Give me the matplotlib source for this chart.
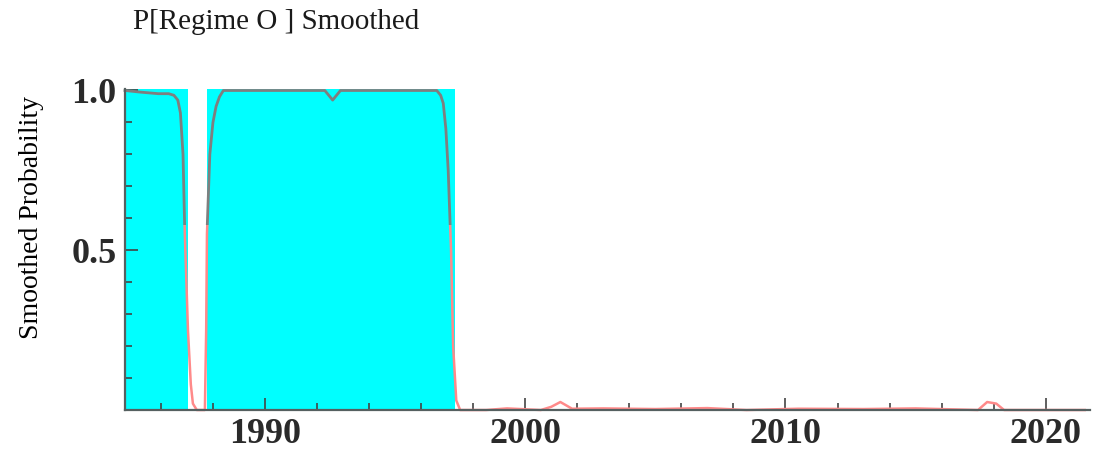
import matplotlib.pyplot as plt
from matplotlib.patches import Rectangle
from matplotlib.ticker import MultipleLocator, FixedLocator

# smoothed probability of regime 0
years = [1984.62, 1985.2, 1985.9, 1986.3, 1986.5, 1986.65, 1986.75, 1986.85, 1986.92, 1987.04,
         1987.15, 1987.23, 1987.38, 1987.69, 1987.74, 1987.77, 1987.88, 1988.0, 1988.12, 1988.25,
         1988.4, 1990.0, 1992.3, 1992.6, 1992.9, 1995.0, 1996.6, 1996.75, 1996.85, 1996.95,
         1997.04, 1997.15, 1997.23, 1997.35, 1997.5, 1998.5, 1999.3, 2000.6, 2001.0, 2001.35,
         2001.8, 2003.0, 2005.0, 2007.0, 2008.5, 2010.5, 2013.0, 2015.0, 2017.4, 2017.75,
         2018.1, 2018.4, 2021.5]
prob = [1.0, 0.995, 0.99, 0.99, 0.985, 0.97, 0.93, 0.8, 0.55, 0.25,
        0.08, 0.02, 0.0, 0.0, 0.25, 0.55, 0.8, 0.9, 0.95, 0.98,
        1.0, 1.0, 1.0, 0.97, 1.0, 1.0, 1.0, 0.985, 0.96, 0.88,
        0.75, 0.5, 0.2, 0.03, 0.0, 0.0, 0.005, 0.0, 0.01, 0.025,
        0.004, 0.005, 0.003, 0.006, 0.0, 0.004, 0.003, 0.005, 0.0, 0.025,
        0.02, 0.0, 0.0]

# periods classified as regime 0 (cyan shading)
regime_start = [1984.62, 1987.77]
regime_end = [1987.04, 1997.3]

x_ticks = [1990, 2000, 2010, 2020]
y_ticks = [0.5, 1.0]
y_labels = ['0.5', '1.0']

fig = plt.figure(figsize=(11.07, 4.54), dpi=100)
ax = fig.add_axes([0.1129, 0.0969, 0.8717, 0.708])

for s, e in zip(regime_start, regime_end):
    ax.axvspan(s, e, color='#00ffff', lw=0, zorder=1)

# line is grey where the probability is high, pink where it is low
cut = 0.58
hi, = ax.plot(years, prob, color='#7f7f7f', lw=2.0, zorder=3)
lo, = ax.plot(years, prob, color='#ff8a8a', lw=1.8, zorder=3)
hi.set_clip_path(Rectangle((1980, cut), 50, 1, transform=ax.transData))
lo.set_clip_path(Rectangle((1980, -1), 50, 1 + cut, transform=ax.transData))

ax.set_xlim(1984.62, 2021.7)
ax.set_ylim(0, 1.006)

ax.xaxis.set_major_locator(FixedLocator(x_ticks))
ax.xaxis.set_minor_locator(MultipleLocator(2))
ax.yaxis.set_major_locator(FixedLocator(y_ticks))
ax.yaxis.set_minor_locator(MultipleLocator(0.1))
ax.set_yticklabels(y_labels)

ax.tick_params(which='both', direction='in', color='#444444', width=1.2)
ax.tick_params(which='major', length=9, pad=6)
ax.tick_params(which='minor', length=5)

for lab in ax.get_xticklabels() + ax.get_yticklabels():
    lab.set_family('Liberation Serif')
    lab.set_fontsize(26)
    lab.set_fontweight('bold')
    lab.set_color('#2a2a2a')

for side in ['top', 'right']:
    ax.spines[side].set_visible(False)
for side in ['left', 'bottom']:
    ax.spines[side].set_color('#556060')
    ax.spines[side].set_linewidth(1.6)
    ax.spines[side].set_zorder(4)

ax.set_ylabel('Smoothed Probability', family='Liberation Serif', fontsize=20)
ax.yaxis.set_label_coords(-0.084, 0.60)
fig.text(0.12, 0.952, 'P[Regime O ] Smoothed', family='Liberation Serif', fontsize=21,
         ha='left', va='center', color='#1a1a1a')

fig.savefig('out.png', dpi=100)
